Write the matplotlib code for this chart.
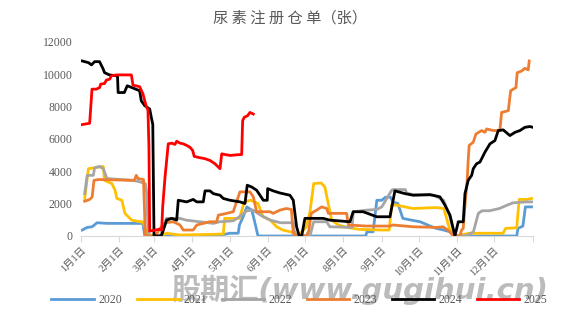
import matplotlib
matplotlib.use("Agg")
from matplotlib import pyplot as plt

# day of year -> registered warehouse receipts
d2020 = [1, 5, 9, 13, 21, 50, 51.5, 112, 120, 127, 128, 131, 134, 138, 140, 143, 230, 231, 236,
         239, 243, 246, 250, 252, 256, 260, 267, 274, 282, 287, 293, 298, 302, 352, 353, 357, 359, 364]
v2020 = [370, 530, 570, 820, 780, 780, 30, 30, 170, 170, 680, 1190, 1800, 1600, 980, 0, 0, 260, 260,
         2210, 2210, 2400, 2400, 2100, 2010, 1090, 980, 880, 615, 470, 370, 260, 0, 0, 470, 615, 1800, 1800]

d2021 = [3, 6, 18, 19, 25, 27.5, 29, 33, 35.5, 41, 48, 50, 53, 56, 64, 69, 80, 115, 116, 128, 132,
         137, 143, 147, 153, 158, 163, 169, 173, 175.5, 182, 185, 188, 194, 197, 200, 202.5, 208, 215,
         225, 242, 249, 251, 255, 268, 287, 293, 295, 298, 302, 314, 341, 343, 352, 354, 360, 364]
v2021 = [2320, 4160, 4300, 3440, 3240, 2830, 2320, 2210, 1400, 980, 880, 880, 260, 60, 0, 170, 60, 120,
         1090, 1090, 2110, 2210, 2010, 1190, 980, 570, 370, 260, 170, 0, 570, 1500, 3240, 3280, 3030,
         1910, 980, 680, 530, 410, 370, 370, 1910, 1910, 1700, 1760, 1700, 1190, 370, 0, 170, 170, 470,
         510, 2260, 2260, 2320]

d2022 = [3, 5, 10, 11, 15, 18, 21, 42, 48, 52, 53, 54.4, 64, 66.5, 69, 80, 85, 96, 107, 112, 123,
         128, 134, 139, 145, 153, 161, 171.5, 172, 174, 185, 188, 198.5, 201, 219, 220, 231, 239, 243,
         251, 252, 262, 263, 268, 285, 293, 298, 302, 312, 317, 321, 324, 330, 338, 344, 349, 360, 364]
v2022 = [2620, 3750, 3750, 4220, 4300, 4160, 3550, 3440, 3340, 3240, 2730, 0, 0, 570, 1090, 1090, 980,
         880, 780, 880, 940, 1190, 1560, 1600, 1290, 980, 820, 820, 370, 0, 0, 880, 880, 570, 530, 1500,
         1600, 1640, 1800, 2830, 2870, 2870, 2660, 2560, 2520, 2210, 1190, 0, 30, 260, 1400, 1560, 1560,
         1700, 1900, 2050, 2110, 2110]

d2023 = [3, 7, 9, 10.5, 14, 43, 44.7, 46, 50.5, 52, 60, 63.8, 68, 74.6, 80, 82.6, 90.7, 93.5, 98.8,
         104, 109.6, 111, 117.7, 123, 128.4, 136.5, 139.2, 141.9, 152.7, 155.3, 160.7, 166, 170, 171.5,
         174, 182, 184, 186, 190.4, 194.4, 198.5, 199.8, 214.6, 216, 230.8, 249.6, 252, 268.4, 287.3,
         292.6, 298, 300.7, 306, 307.5, 308.8, 310.2, 312, 312.8, 313.6, 316.9, 319.1, 323.7, 326.3,
         327.7, 333, 338.4, 339.8, 345.2, 347.1, 351.4, 352.4, 356, 358.6, 361.3, 362.1]
v2023 = [2150, 2260, 2400, 3440, 3490, 3440, 3750, 3550, 3490, 0, 0, 470, 820, 880, 680, 370, 370, 680,
         780, 880, 880, 1290, 1400, 1500, 2730, 2730, 2420, 1500, 1500, 1400, 1600, 1700, 1640, 170, 0,
         0, 300, 1400, 1600, 1800, 1700, 1400, 1400, 680, 615, 615, 680, 570, 530, 570, 260, 0, 0, 370,
         470, 1900, 3440, 4670, 5600, 5800, 6310, 6520, 6410, 6620, 6520, 6520, 7640, 7750, 8980, 9180,
         10100, 10200, 10370, 10270, 10820]

d2024 = [1, 6, 8.5, 11, 15, 18, 19, 23, 29.5, 30, 35, 37.4, 42, 47.4, 48.7, 51.5, 55.5, 56.8, 58, 59,
         64, 65.2, 69.2, 73.3, 77.3, 78.6, 85.4, 90.7, 93.5, 98.8, 100.2, 104.2, 106.9, 112.3, 115,
         120.4, 128.4, 132.5, 134.3, 137.9, 141.9, 147.3, 150.5, 150.8, 155.3, 160.7, 168.8, 171.5,
         174.2, 176.3, 178.3, 180.9, 195.7, 201.1, 217.3, 219.9, 228, 238.9, 249.6, 253.6, 261.7, 268.4,
         281.9, 290, 294, 298.1, 302.1, 304.8, 308.8, 310.2, 312.8, 315.6, 316.9, 319.6, 322.3, 323.7,
         326.3, 330.4, 334.4, 337.1, 341.1, 346.5, 350.6, 354.6, 358.6, 362.7, 365]
v2024 = [10820, 10720, 10580, 10780, 10780, 10310, 10100, 9960, 9900, 8870, 8870, 9290, 9150, 8980,
         8360, 8060, 7850, 7340, 6900, 0, 0, 60, 984, 1090, 984, 2210, 2110, 2260, 2110, 2110, 2790,
         2790, 2620, 2520, 2320, 2210, 2110, 2010, 3140, 3030, 2830, 2210, 2210, 2930, 2790, 2660, 2520,
         2210, 570, 0, 0, 1090, 1090, 980, 880, 1500, 1500, 1190, 1190, 2790, 2620, 2520, 2560, 2420,
         1910, 1290, 0, 880, 880, 2620, 3440, 3750, 4160, 4470, 4570, 4780, 5180, 5700, 5900, 6520,
         6560, 6210, 6410, 6520, 6720, 6770, 6720]

d2025 = [1, 7, 8.9, 12.4, 15.1, 15.9, 19.1, 20.5, 23.2, 24.5, 28.5, 40.7, 42, 47.4, 50.1, 51.5, 52.8,
         54.1, 54.9, 55.5, 60, 63, 65.2, 66, 67.9, 69.2, 70.5, 73.3, 75.9, 77.3, 80, 82.6, 85.4, 88,
         90.2, 91.5, 96.1, 100.2, 104.2, 108.2, 112.3, 113.7, 116.3, 120.4, 125.8, 129.8, 130.6, 131.9,
         134.6, 136.5, 139.2]
v2025 = [6890, 6970, 9080, 9080, 9180, 9390, 9430, 9640, 9700, 9900, 9960, 9960, 9330, 9230, 8780,
         8360, 8000, 7790, 5490, 300, 370, 410, 370, 1800, 3650, 4670, 5700, 5740, 5660, 5860, 5740, 5700,
         5600, 5490, 5290, 4920, 4840, 4780, 4670, 4470, 4160, 5080, 5040, 4980, 5020, 5040, 7130, 7340,
         7440, 7640, 7540]

series = [("2020", d2020, v2020, "#5B9BD5"),
          ("2021", d2021, v2021, "#FFC000"),
          ("2022", d2022, v2022, "#A5A5A5"),
          ("2023", d2023, v2023, "#ED7D31"),
          ("2024", d2024, v2024, "#000000"),
          ("2025", d2025, v2025, "#FF0000")]

month_starts = [0, 31, 59, 90, 120, 151, 181, 212, 243, 273, 304, 334]
month_labels = [f"{m}月1日" for m in range(1, 13)]

txt = "#595959"
serif_cjk = ["Liberation Serif", "Noto Sans CJK SC"]

fig = plt.figure(figsize=(5.76, 3.2), dpi=100)
ax = fig.add_axes([0.1406, 0.2625, 0.7844, 0.6065])

for name, d, v, c in series:
    ax.plot(d, v, color=c, lw=2.0, label=name, solid_joinstyle="round")

ax.set_xlim(0, 365)
ax.set_ylim(0, 12000)
ax.set_yticks(range(0, 12001, 2000))
ax.set_xticks(month_starts + [365])
ax.set_xticklabels(month_labels + [""], rotation=45, ha="right", va="top",
                   rotation_mode="anchor", family=serif_cjk, fontsize=7.5, color=txt)
for lab in ax.get_yticklabels():
    lab.set_family("Liberation Serif")
    lab.set_fontsize(8.5)
    lab.set_color(txt)

for s in ["top", "right", "left"]:
    ax.spines[s].set_visible(False)
ax.spines["bottom"].set_color("#D9D9D9")
ax.tick_params(axis="x", length=4, color="#D9D9D9", pad=3)
ax.tick_params(axis="y", length=0, pad=6)

fig.text(0.503, 0.944, "尿 素 注 册 仓 单（张）", ha="center", va="center",
         fontsize=11, color=txt, family="Noto Sans CJK SC")

leg = fig.legend(loc="center", bbox_to_anchor=(0.52, 0.062), ncol=6, frameon=False,
                 handlelength=3.6, columnspacing=1.2, handletextpad=0.4,
                 prop={"family": "Liberation Serif", "size": 8.5})
for t in leg.get_texts():
    t.set_color(txt)

fig.text(0.625, 0.095, "股期汇(www.gugihui.cn)", ha="center", va="center", fontsize=21,
         fontweight="bold", style="italic", color="#B0B0B0", alpha=0.85,
         family=["DejaVu Sans", "Noto Sans CJK SC"])

fig.savefig("out.png", dpi=100)
